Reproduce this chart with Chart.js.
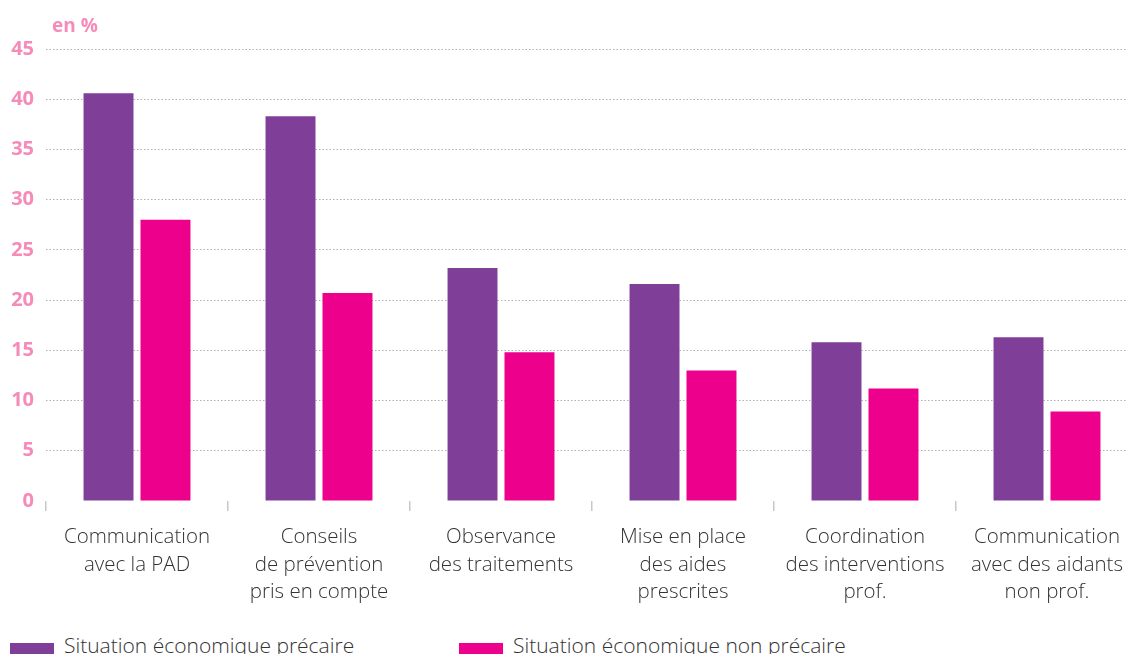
<!DOCTYPE html>
<html>
<head>
<meta charset="utf-8">
<script src="https://cdn.jsdelivr.net/npm/chart.js@4/dist/chart.umd.min.js"></script>
<style>
  html, body { margin: 0; padding: 0; background: #fff; overflow: hidden; }
  #wrap { position: relative; width: 1140px; height: 654px; }
  #unit { position: absolute; left: 52px; top: 12px; font: bold 19px "Open Sans", sans-serif; color: #f58bb9; }
  #legend { position: absolute; left: 10px; top: 629px; display: flex; font: 300 21px "Open Sans", sans-serif; color: #333; }
  .item { display: flex; align-items: center; width: 449px; }
  .box { width: 44px; height: 18px; margin-right: 10px; margin-top: 14px; }
</style>
</head>
<body>
<div id="wrap">
  <div id="unit">en %</div>
  <canvas id="chart" width="1140" height="612"></canvas>
  <div id="legend"></div>
</div>
<script>
var categories = [
  ["Communication", "avec la PAD"],
  ["Conseils", "de prévention", "pris en compte"],
  ["Observance", "des traitements"],
  ["Mise en place", "des aides", "prescrites"],
  ["Coordination", "des interventions", "prof."],
  ["Communication", "avec des aidants", "non prof."]
]
var precaire = [40.6, 38.3, 23.2, 21.6, 15.8, 16.3]
var nonPrecaire = [28.0, 20.7, 14.8, 13.0, 11.2, 8.9]
var seriesNames = ["Situation économique précaire", "Situation économique non précaire"]
var seriesColors = ["#7f3f98", "#ec008c"]

var ctx = document.getElementById("chart").getContext("2d")

var chart = new Chart(ctx, {
  type: "bar",
  data: {
    labels: categories,
    datasets: [
      { label: seriesNames[0], data: precaire, backgroundColor: seriesColors[0] },
      { label: seriesNames[1], data: nonPrecaire, backgroundColor: seriesColors[1] }
    ]
  },
  options: {
    responsive: false,
    animation: false,
    datasets: { bar: { categoryPercentage: 0.626, barPercentage: 0.877 } },
    layout: { padding: { top: 49, right: 2, left: 0, bottom: 0 } },
    plugins: { legend: { display: false }, tooltip: { enabled: false } },
    scales: {
      x: {
        border: { display: false },
        grid: { drawOnChartArea: false, drawTicks: true, tickLength: 10, tickColor: "#c8c8c8", lineWidth: 1.5 },
        ticks: {
          color: "#333",
          padding: 13,
          maxRotation: 0,
          autoSkip: false,
          font: { family: "Open Sans", size: 20.5, weight: 300, lineHeight: 1.33 }
        },
        afterFit: function(s) { s.height = 111 }
      },
      y: {
        min: 0,
        max: 45,
        border: { display: false, dash: [1.5, 2] },
        grid: {
          drawTicks: false,
          color: function(c) { return c.tick.value === 0 ? "rgba(0,0,0,0)" : "#b0b0b0" }
        },
        ticks: {
          stepSize: 5,
          color: "#f58bb9",
          padding: 12,
          font: { family: "Open Sans", size: 20, weight: "bold" }
        },
        afterFit: function(s) { s.width = 46 }
      }
    }
  }
})

var legend = document.getElementById("legend")
seriesNames.forEach(function(name, i) {
  var item = document.createElement("div")
  item.className = "item"
  item.innerHTML = '<span class="box" style="background:' + seriesColors[i] + '"></span><span>' + name + '</span>'
  legend.appendChild(item)
})
</script>
</body>
</html>
